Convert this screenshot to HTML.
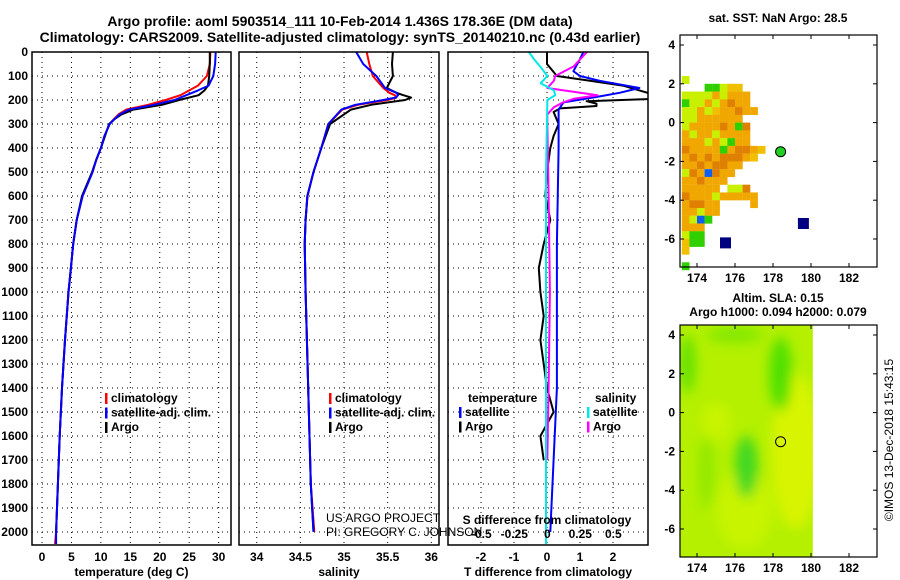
<!DOCTYPE html>
<html><head><meta charset="utf-8"><style>
body{margin:0;background:#fff;width:900px;height:580px;overflow:hidden}
svg{display:block;font-family:"Liberation Sans",sans-serif}
</style></head><body>
<svg id="s" width="900" height="580" viewBox="0 0 900 580">
<text x="340" y="26" text-anchor="middle" font-size="14" font-weight="bold">Argo profile: aoml 5903514_111 10-Feb-2014 1.436S 178.36E (DM data)</text>
<text x="340" y="42" text-anchor="middle" font-size="14" font-weight="bold">Climatology: CARS2009. Satellite-adjusted climatology: synTS_20140210.nc (0.43d earlier)</text>
</svg>
<script>
// ---- data ----
const tempDepth=[0,50,100,140,160,180,200,220,240,260,280,300,350,400,450,500,600,700,800,900,1000,1200,1400,1600,1800,2000];
const tempArgo=[28.5,28.5,28.4,28.2,27.6,26.6,23.3,20.4,15.5,13.5,12.3,11.4,10.7,10.0,9.2,8.5,6.8,5.9,5.3,4.9,4.5,3.9,3.4,3.0,2.7,2.4];
const climDepth=[0,50,100,140,160,180,200,220,240,260,280,300,350,400,450,500,600,700,800,900,1000,1200,1400,1600,1800,2000,2050];
const tempClim=[28.6,28.5,28.0,26.5,25.0,23.5,21.0,18.0,14.3,13.0,12.2,11.5,10.6,10.0,9.2,8.6,6.9,5.9,5.3,4.9,4.5,3.9,3.4,3.0,2.7,2.4,2.2];
const tempSat=[29.5,29.4,29.1,28.3,26.5,24.5,22.5,19.0,14.8,13.2,12.3,11.5,10.6,10.0,9.2,8.6,6.9,5.9,5.3,4.9,4.5,3.9,3.4,3.0,2.7,2.4,2.4];
const salDepth=[0,50,100,150,170,180,190,200,220,240,300,400,500,600,700,800,1000,1400,1800,2000];
const salArgo=[35.56,35.55,35.56,35.49,35.6,35.68,35.77,35.70,35.31,35.08,34.84,34.74,34.65,34.58,34.56,34.55,34.56,34.59,34.62,34.65];
const salClim=[35.26,35.29,35.33,35.45,35.52,35.58,35.6,35.5,35.16,34.98,34.82,34.74,34.65,34.58,34.56,34.55,34.56,34.59,34.62,34.66];
const salSat=[35.14,35.22,35.37,35.47,35.6,35.62,35.59,35.45,35.13,34.97,34.82,34.74,34.65,34.58,34.56,34.55,34.56,34.59,34.62,34.65];
const dtDepth=[0,50,100,120,140,160,180,195,205,215,225,235,250,300,350,400,500,600,700,800,900,1000,1100,1200,1300,1400,1500,1600,1700];
const dtArgo=[0,0,0.3,1.3,2.3,2.8,3.3,3.3,1.2,1.5,1.5,0.4,0.2,0.35,0.2,0.1,0.0,-0.05,0.1,-0.1,-0.25,-0.2,-0.1,-0.2,-0.1,0.0,0.2,-0.2,-0.1];
const dtSatDepth=[0,30,80,100,120,150,170,185,210,240,400,800,1400,2000];
const dtSat=[1.1,1.0,0.8,1.0,1.6,2.8,2.2,1.6,0.5,0.35,0.35,0.3,0.3,0.1];
const dsDepth=[0,60,100,120,150,170,180,195,210,230,260,300,600,1000,1400,1700];
const dsArgo=[0.3,0.2,0.06,0.05,0,0.25,0.38,0.2,0.12,0.05,0,0,0.01,0.02,0.01,0.0];
const dsSatDepth=[0,30,70,100,130,160,180,200,220,500,1000,2050];
const dsSat=[-0.14,-0.1,-0.04,0,-0.05,0.05,0.06,0,0,-0.01,-0.01,-0.01];
const depthTicks=[0,100,200,300,400,500,600,700,800,900,1000,1100,1200,1300,1400,1500,1600,1700,1800,1900,2000];
const tempTicks=[0,5,10,15,20,25,30];
const salTicks=[34,34.5,35,35.5,36];
const dtTicks=[-2,-1,0,1,2];
const dsTicks=[-0.5,-0.25,0,0.25,0.5];
const lonTicks=[174,176,178,180,182];
const latTicks=[4,2,0,-2,-4,-6];
const sstRows=["y.........","...ggyll..","yyyyoyooo.","gyyoyodoo.","yyoyloodoo.","yyoooooo..","yoooodogd.","oyooyoooo.","oooyoygoo.","doooogoddol","odododddol","oododdoo..","ydobdoo...","oodooo....","ooooo.yyd.","doooyooooo","oddoo....o","ooyoo.....","oybg......","ooo.......","ygg.......","lgg.......","l.........","..........","g........."];
const sstColors={y:"#c8f000",o:"#f0a800",d:"#e08000",g:"#30d000",l:"#f0c000",b:"#1060f0"};

const S=document.getElementById('s');
const NS="http://www.w3.org/2000/svg";
function el(tag,attrs,parent){const e=document.createElementNS(NS,tag);for(const k in attrs)e.setAttribute(k,attrs[k]);(parent||S).appendChild(e);return e;}
function txt(x,y,s,size,anchor,bold,parent){const t=el('text',{x:x,y:y,'font-size':size,'text-anchor':anchor||'middle'},parent);if(bold)t.setAttribute('font-weight','bold');t.textContent=s;return t;}
const defs=el('defs',{});

const Y0=52,Y1=545;
const yD=d=>Y0+d*0.24;
function panel(name,x0,x1,vmin,vmax,ticks,title,showY){
  const g=el('g',{});
  
  
  const sx=v=>x0+(v-vmin)/(vmax-vmin)*(x1-x0);
  ticks.forEach(t=>{el('line',{x1:sx(t),x2:sx(t),y1:Y0,y2:Y1,stroke:'#000','stroke-dasharray':'1,4','stroke-width':1},g);});
  depthTicks.forEach(d=>{el('line',{x1:x0,x2:x1,y1:yD(d),y2:yD(d),stroke:'#000','stroke-dasharray':'1,4','stroke-width':1},g);
    if(showY){const t=txt(28,yD(d)+4,String(d),12,'end',true,g);}});
  ticks.forEach(t=>{const l=txt(sx(t),561,String(t),12,'middle',true,g);});
  const tt=txt((x0+x1)/2,576,title,12,'middle',true,g);
  const cid='clip-'+name;
  const cp=el('clipPath',{id:cid},defs);el('rect',{x:x0,y:Y0,width:x1-x0,height:Y1-Y0},cp);
  const lg=el('g',{'clip-path':'url(#'+cid+')'},g);
  return {g,lg,sx};
}
function line(g,sx,depths,vals,color,name,w){
  const pts=depths.map((d,i)=>sx(vals[i]).toFixed(1)+','+yD(d).toFixed(1)).join(' ');
  const p=el('polyline',{points:pts,fill:'none',stroke:color,'stroke-width':w||2,'stroke-linejoin':'round'},g);
  
  
}
function frame(g,x0,x1){el('rect',{x:x0,y:Y0,width:x1-x0,height:Y1-Y0,fill:'none',stroke:'#000','stroke-width':1.5},g);}
function legend(g,x,y,items){items.forEach((it,i)=>{const yy=y+i*14.5;
  const r=el('rect',{x:x,y:yy-9,width:2.5,height:11,fill:it[1]},g);
  const t=txt(x+6,yy,it[0],12,'start',true,g);});}

const P1=panel('temperature-panel',32,231,-1.7,32.1,tempTicks,'temperature (deg C)',true);
line(P1.lg,P1.sx,climDepth,tempClim,'#ff0000','temp-climatology-line');
line(P1.lg,P1.sx,tempDepth,tempArgo,'#000','temp-argo-line');
line(P1.lg,P1.sx,climDepth,tempSat,'#0000ff','temp-satellite-line');
legend(P1.g,105,402,[['climatology','#f00'],['satellite-adj. clim.','#00f'],['Argo','#000']]);
frame(P1.g,32,231);

const P2=panel('salinity-panel',239,439,33.797,36.088,salTicks,'salinity',false);
line(P2.lg,P2.sx,salDepth,salClim,'#ff0000','sal-climatology-line');
line(P2.lg,P2.sx,salDepth,salArgo,'#000','sal-argo-line');
line(P2.lg,P2.sx,salDepth,salSat,'#0000ff','sal-satellite-line');
legend(P2.g,329,402,[['climatology','#f00'],['satellite-adj. clim.','#00f'],['Argo','#000']]);
frame(P2.g,239,439);
const c1=txt(326,522,'US ARGO PROJECT',12,'start',false);
const c2=txt(326,536,'PI: GREGORY C. JOHNSON',12,'start',false);

const P3=panel('difference-panel',448,648,-3.0,3.06,dtTicks,'T difference from climatology',false);
const sxS=v=>547.3+v*132;
dsTicks.forEach(t=>{const l=txt(sxS(t),538,String(t),12,'middle',true,P3.g);});
const st=txt(547,524,'S difference from climatology',12,'middle',true,P3.g);
line(P3.lg,P3.sx,dtDepth,dtArgo,'#000','t-diff-argo-line');
line(P3.lg,P3.sx,dtSatDepth,dtSat,'#0000ff','t-diff-satellite-line');
line(P3.lg,sxS,dsDepth,dsArgo,'#ff00ff','s-diff-argo-line');
line(P3.lg,sxS,dsSatDepth,dsSat,'#00e8e8','s-diff-satellite-line');
const lt=txt(468,402,'temperature',12,'start',true,P3.g);
legend(P3.g,459,416,[['satellite','#00f'],['Argo','#000']]);
const ls=txt(595,402,'salinity',12,'start',true,P3.g);
legend(P3.g,587,416,[['satellite','#00e8e8'],['Argo','#f0f']]);
frame(P3.g,448,648);

function map(name,y0){
  const g=el('g',{});
  
  
  const x0=680,x1=877,y1=y0+232;
  const lx=v=>697+(v-174)*19;
  const ly=v=>(y0+10)+(4-v)*19.4;
  return {g,x0,x1,y1,lx,ly,finish(){
    el('rect',{x:x0,y:y0,width:x1-x0,height:232,fill:'none',stroke:'#000','stroke-width':1.2},g);
    lonTicks.forEach(t=>{el('line',{x1:lx(t),x2:lx(t),y1:y0,y2:y0+4,stroke:'#000'},g);el('line',{x1:lx(t),x2:lx(t),y1:y1,y2:y1-4,stroke:'#000'},g);
      const l=txt(lx(t),y1+15,String(t),12,'middle',true,g);});
    latTicks.forEach(t=>{el('line',{x1:x0,x2:x0+4,y1:ly(t),y2:ly(t),stroke:'#000'},g);el('line',{x1:x1,x2:x1-4,y1:ly(t),y2:ly(t),stroke:'#000'},g);
      const l=txt(675,ly(t)+4,String(t),12,'end',true,g);});
  }};
}
const M1=map('sst-map',35);
const t1=txt(778,22,'sat. SST: NaN Argo: 28.5',12,'middle',true);
sstRows.forEach((row,r)=>{for(let c=0;c<row.length;c++){const ch=row[c];if(ch==='.'||!sstColors[ch])continue;
  const lon=173.2+c*0.4,lat=2.4-r*0.4;
  const cell=el('rect',{x:M1.lx(lon),y:M1.ly(lat),width:7.7,height:7.9,fill:sstColors[ch]},M1.g);
  
  }});
[[179.6,-5.2],[175.5,-6.2]].forEach(p=>{const q=el('rect',{x:M1.lx(p[0])-5.5,y:M1.ly(p[1])-5.5,width:11,height:11,fill:'#000080'},M1.g);});
const a1=el('circle',{cx:M1.lx(178.4),cy:M1.ly(-1.5),r:5,fill:'#20d020',stroke:'#000'},M1.g);

M1.finish();

const M2=map('sla-map',325);
const t2=txt(778,302,'Altim. SLA: 0.15',12,'middle',true);
const t3=txt(778,316,'Argo h1000: 0.094 h2000: 0.079',12,'middle',true);
const f=el('filter',{id:'bl',x:'-50%',y:'-50%',width:'200%',height:'200%'},defs);el('feGaussianBlur',{stdDeviation:6},f);
const cpm=el('clipPath',{id:'cp'},defs);el('rect',{x:680,y:325,width:M2.lx(180.1)-680,height:232},cpm);
const bg=el('g',{'clip-path':'url(#cp)'},M2.g);
el('rect',{x:680,y:325,width:M2.lx(180.1)-680,height:232,fill:'#b4f000'},bg);
const blobs=el('g',{filter:'url(#bl)'},bg);
[[179.2,-2,1.3,4,'#d8f400'],[176.5,-5,1.5,2,'#c8f400'],[178.4,2,0.6,1.9,'#50e000'],[176.6,-2.8,0.6,1.6,'#40d820'],[173.5,2.5,0.4,1.5,'#60e000'],[176,4,1.5,0.4,'#80e800'],[174.5,-3,0.4,2,'#90e800'],[175,-0.5,0.8,1,'#c8f400']].forEach(b=>{
  const e=el('ellipse',{cx:M2.lx(b[0]),cy:M2.ly(b[1]),rx:b[2]*19,ry:b[3]*19.4,fill:b[4]},blobs);
  });
const a2=el('circle',{cx:M2.lx(178.4),cy:M2.ly(-1.5),r:5,fill:'none',stroke:'#000'},M2.g);

M2.finish();
const cr=txt(0,0,'©IMOS 13-Dec-2018 15:43:15',12,'middle',false);
cr.setAttribute('transform','translate(893,440) rotate(-90)');


</script>
</body></html>
